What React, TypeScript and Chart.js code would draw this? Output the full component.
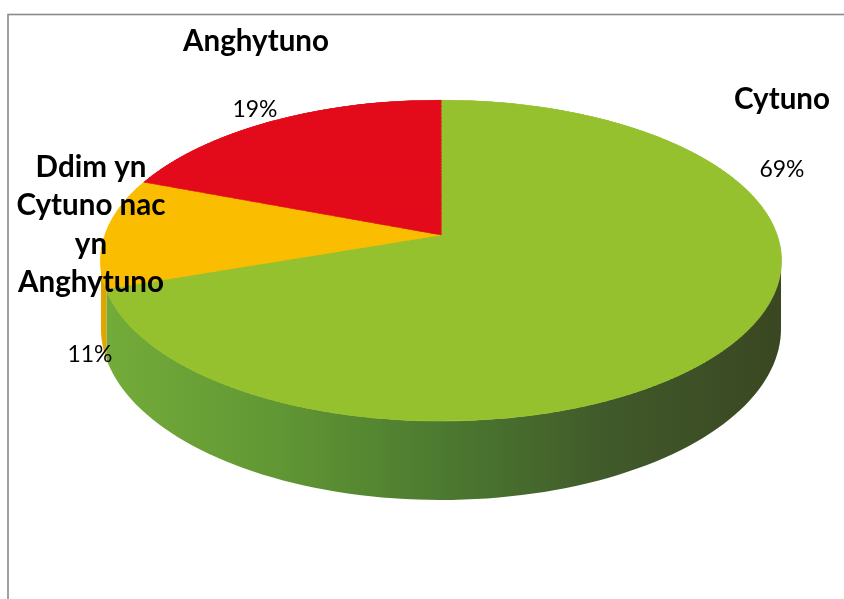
import React, { useEffect, useRef } from 'react';
import { Chart, registerables } from 'chart.js';

Chart.register(...registerables);

// ---- data ----
const categories = ['Cytuno', 'Ddim yn Cytuno nac yn Anghytuno', 'Anghytuno'];
const categoryLines = [['Cytuno'], ['Ddim yn', 'Cytuno nac', 'yn', 'Anghytuno'], ['Anghytuno']];
const values = [69, 11, 19];
const sliceColors = ['#96C12F', '#FABD00', '#E30B1B'];

// ---- view / layout (styling, not data) ----
const VIEW = { ox: 441, r0: 335.7, yh: -749.7, h: 984.7, q: 0.1589, depth: 66.4, strips: 180 };
const LABELS = [
  { cx: 782, base: [109], lineGap: 38, pctX: 782, pctBase: 177 },
  { cx: 91, base: [177], lineGap: 38.3, pctX: 90, pctBase: 362 },
  { cx: 256, base: [51], lineGap: 38, pctX: 255, pctBase: 117 },
];
const SIDE_GRADIENTS: (string[] | null)[] = [
  ['#74AC3A', '#629834', '#4C7A30', '#40592A', '#3A4722'],
  ['#E0A500', '#E0A500'],
  ['#B80A16', '#B80A16'],
];
const FONT = "Lato, 'DejaVu Sans', sans-serif";

const wv = (v: number) => 1 / (1 - VIEW.q * v);
const projY = (v: number) => VIEW.yh + VIEW.h * wv(v);

const perspectivePlugin = {
  id: 'perspective3d',
  beforeDraw(chart: any) {
    const ctx = chart.ctx;
    ctx.save();
    ctx.fillStyle = '#ffffff';
    ctx.fillRect(0, 0, chart.width, chart.height);
    ctx.strokeStyle = '#8a8a8a';
    ctx.lineWidth = 1.6;
    ctx.strokeRect(8, 14.5, chart.width + 50, chart.height + 50);
    ctx.restore();
  },
  beforeDatasetsDraw(chart: any) {
    const ctx = chart.ctx;
    const meta = chart.getDatasetMeta(0);
    const arcs = meta.data;
    if (!arcs.length) return false;

    // --- side walls ---
    const lo = Math.asin(VIEW.q);
    const hi = Math.PI - lo;
    const xl = VIEW.ox - VIEW.r0 * 1.013;
    const xr = VIEW.ox + VIEW.r0 * 1.013;
    arcs.forEach((arc: any, i: number) => {
      const { startAngle, endAngle } = arc.getProps(['startAngle', 'endAngle'], true);
      for (let k = -1; k <= 1; k++) {
        const a = Math.max(startAngle + k * 2 * Math.PI, lo);
        const b = Math.min(endAngle + k * 2 * Math.PI, hi);
        if (b <= a) continue;
        const n = 90;
        ctx.save();
        ctx.beginPath();
        for (let j = 0; j <= n; j++) {
          const t = a + ((b - a) * j) / n;
          const v = Math.sin(t);
          const w = wv(v);
          const x = VIEW.ox + VIEW.r0 * Math.cos(t) * w;
          const y = projY(v);
          if (j === 0) ctx.moveTo(x, y);
          else ctx.lineTo(x, y);
        }
        for (let j = n; j >= 0; j--) {
          const t = a + ((b - a) * j) / n;
          const v = Math.sin(t);
          const w = wv(v);
          const x = VIEW.ox + VIEW.r0 * Math.cos(t) * w;
          const y = projY(v) + VIEW.depth * w;
          ctx.lineTo(x, y);
        }
        ctx.closePath();
        const stops = SIDE_GRADIENTS[i] || [sliceColors[i], sliceColors[i]];
        const g = ctx.createLinearGradient(xl, 0, xr, 0);
        stops.forEach((c, s) => g.addColorStop(s / (stops.length - 1), c));
        ctx.fillStyle = g;
        ctx.fill();
        ctx.restore();
      }
    });

    // --- top face, drawn by the library in perspective strips ---
    const { x: sx0, y: sy0, outerRadius: R } = arcs[0].getProps(['x', 'y', 'outerRadius'], true);
    const N = VIEW.strips;
    for (let i = 0; i < N; i++) {
      const v0 = -1 + (2 * i) / N;
      const v1 = v0 + 2 / N;
      const vm = (v0 + v1) / 2;
      const w = wv(vm);
      const a = (VIEW.r0 / R) * w;
      const e = VIEW.ox - sx0 * a;
      const d = (VIEW.h * VIEW.q * w * w) / R;
      const f = projY(vm) - d * (sy0 + vm * R);
      const y0 = projY(v0);
      const y1 = projY(v1);
      ctx.save();
      ctx.beginPath();
      ctx.rect(0, y0 - 0.6, chart.width, y1 - y0 + 1.2);
      ctx.clip();
      ctx.transform(a, 0, 0, d, e, f);
      meta.controller.draw();
      ctx.restore();
    }
    return false;
  },
  afterDraw(chart: any) {
    const ctx = chart.ctx;
    ctx.save();
    ctx.fillStyle = '#000000';
    ctx.textAlign = 'center';
    ctx.textBaseline = 'alphabetic';
    ctx.font = `bold 100px ${FONT}`;
    const boldSize = (100 * 146) / ctx.measureText('Anghytuno').width;
    ctx.font = `normal 100px ${FONT}`;
    const regSize = (100 * 45) / ctx.measureText('19%').width;
    categoryLines.forEach((lines, i) => {
      const L = LABELS[i];
      ctx.font = `bold ${boldSize.toFixed(2)}px ${FONT}`;
      lines.forEach((line, j) => {
        ctx.fillText(line, L.cx, L.base[0] + j * L.lineGap);
      });
      ctx.font = `normal ${regSize.toFixed(2)}px ${FONT}`;
      ctx.fillText(`${values[i]}%`, L.pctX, L.pctBase);
    });
    ctx.restore();
  },
};

export default function App() {
  const ref = useRef<HTMLCanvasElement>(null);
  useEffect(() => {
    if (!ref.current) return;
    const chart = new Chart(ref.current, {
      type: 'pie',
      data: {
        labels: categories,
        datasets: [
          {
            data: values,
            backgroundColor: sliceColors,
            borderColor: sliceColors,
            borderWidth: 1,
          },
        ],
      },
      options: {
        responsive: false,
        animation: false,
        events: [],
        layout: { padding: 20 },
        plugins: {
          legend: { display: false },
          tooltip: { enabled: false },
        },
      },
      plugins: [perspectivePlugin],
    } as any);
    return () => chart.destroy();
  }, []);
  return (
    <div style={{ position: 'fixed', left: 0, top: 0, width: 844, height: 599, background: '#fff' }}>
      <canvas ref={ref} width={844} height={599} style={{ display: 'block', width: 844, height: 599 }} />
    </div>
  );
}
